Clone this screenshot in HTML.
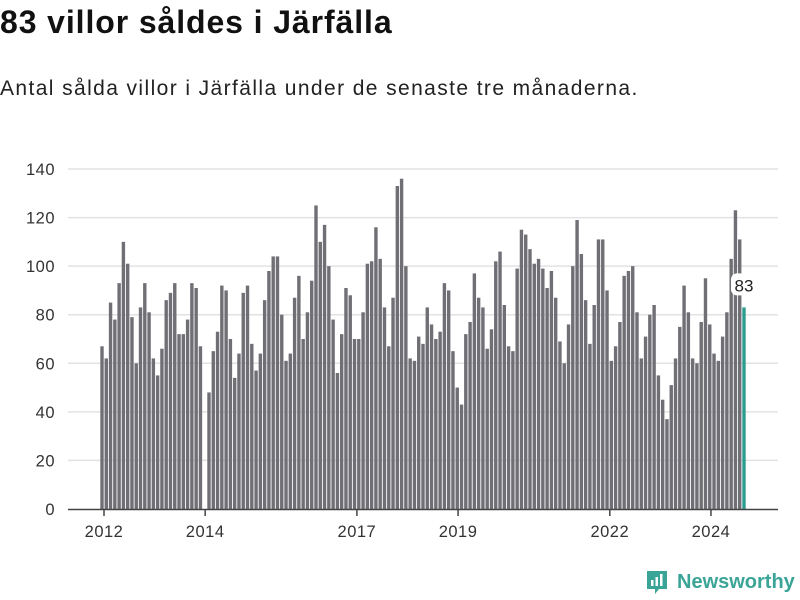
<!DOCTYPE html>
<html><head><meta charset="utf-8"><style>
body{margin:0;width:800px;height:600px;background:#fff;font-family:"Liberation Sans",sans-serif;overflow:hidden;position:relative}
h1{position:absolute;left:0;top:4px;margin:0;font-size:32px;letter-spacing:0.9px;font-weight:bold;color:#111}
p.sub{position:absolute;left:0;top:77px;margin:0;font-size:21px;letter-spacing:1.4px;color:#222}
</style></head><body>
<h1>83 villor såldes i Järfälla</h1>
<p class="sub">Antal sålda villor i Järfälla under de senaste tre månaderna.</p>
<svg id="c" width="800" height="600" style="position:absolute;left:0;top:0"></svg>
<script>
const values=[67,62,85,78,93,110,101,79,60,83,93,81,62,55,66,86,89,93,72,72,78,93,91,67,0,48,65,73,92,90,70,54,64,89,92,68,57,64,86,98,104,104,80,61,64,87,96,70,81,94,125,110,117,100,78,56,72,91,88,70,70,81,101,102,116,103,83,67,87,133,136,100,62,61,71,68,83,76,70,73,93,90,65,50,43,72,77,97,87,83,66,74,102,106,84,67,65,99,115,113,107,101,103,99,91,98,87,69,60,76,100,119,105,86,68,84,111,111,90,61,67,77,96,98,100,81,62,71,80,84,55,45,37,51,62,75,92,81,62,60,77,95,76,64,61,71,81,103,123,111,83];
const yTicks=[0,20,40,60,80,100,120,140];
const xTickLabels=["2012","2014","2017","2019","2022","2024"];
const xTickMonths=[0,24,60,84,120,144];
const NS="http://www.w3.org/2000/svg",svg=document.getElementById('c');
const y=v=>509-v*(340/140);
const x=i=>102+i*(642/(values.length-1));
const xt=m=>104+m*4.215;
function mk(t,a,txt){const e=document.createElementNS(NS,t);for(const k in a)e.setAttribute(k,a[k]);if(txt!=null)e.textContent=txt;svg.appendChild(e);return e;}
yTicks.forEach(v=>{
  if(v>0){const g=mk('line',{x1:68,x2:778,y1:y(v),y2:y(v),stroke:'#e2e2e2','stroke-width':1.5});
  
  }
  const t=mk('text',{x:55,y:y(v)+6,'text-anchor':'end','font-size':16.5,'letter-spacing':0.5,fill:'#333','font-family':'Liberation Sans, sans-serif'},v);
  
  
});
values.forEach((v,i)=>{
  const last=i===values.length-1;
  const r=mk('rect',{x:x(i)-1.7,y:y(v),width:3.4,height:509-y(v),fill:last?'#2a9d8f':'#706f75'});
  
  
});
const ax=mk('line',{x1:68,x2:778,y1:509.5,y2:509.5,stroke:'#444','stroke-width':1.5});


xTickMonths.forEach((m,i)=>{
  const tk=mk('line',{x1:xt(m),x2:xt(m),y1:510,y2:516,stroke:'#444','stroke-width':1.5});
  
  
  const t=mk('text',{x:xt(m),y:537,'text-anchor':'middle','font-size':16.5,'letter-spacing':0.5,fill:'#333','font-family':'Liberation Sans, sans-serif'},xTickLabels[i]);
  
  
});
const li=values.length-1;
const lb=mk('rect',{x:x(li)-13,y:y(values[li])-34,width:26,height:22,rx:6,fill:'#fff'});


const lt=mk('text',{x:x(li),y:y(values[li])-16,'text-anchor':'middle','font-size':17,fill:'#222','font-family':'Liberation Sans, sans-serif'},values[li]);


</script>
<div style="position:absolute;left:645px;top:569px;display:flex;align-items:center">
<svg width="24" height="26"><path d="M2 2h20v18h-8l-4 5v-5H2z" fill="#3aa597"/><rect x="6" y="11" width="2.5" height="6" fill="#fff"/><rect x="10.5" y="8" width="2.5" height="9" fill="#fff"/><rect x="15" y="5" width="2.5" height="12" fill="#fff"/></svg>
<span style="margin-left:8px;font-size:20px;font-weight:bold;color:#3aa597">Newsworthy</span></div>
</body></html>
